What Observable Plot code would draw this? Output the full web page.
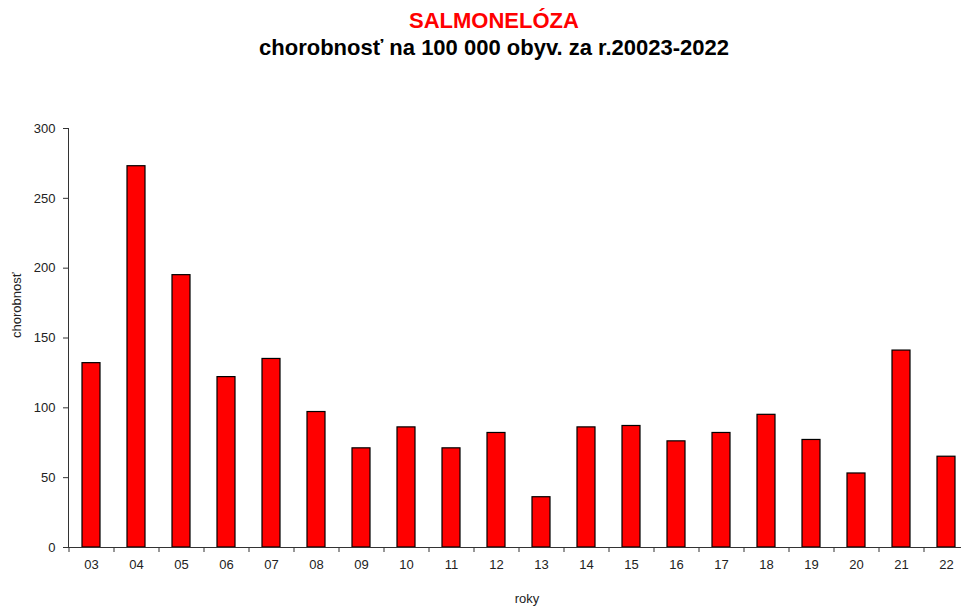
<!DOCTYPE html>
<html>
<head>
<meta charset="utf-8">
<script src="https://cdn.jsdelivr.net/npm/d3@7"></script>
<script src="https://cdn.jsdelivr.net/npm/@observablehq/plot@0.6"></script>
<style>
  html, body { margin: 0; padding: 0; background: #fff; }
  body { width: 961px; height: 608px; overflow: hidden; font-family: "Liberation Sans", Arial, sans-serif; }
  #head { height: 80px; position: relative; }
  #t1 { position: absolute; left: 0; width: 988px; top: 8px; text-align: center; color: #ff0000; font-weight: bold; font-size: 22px; }
  #t2 { position: absolute; left: 0; width: 988px; top: 35px; text-align: center; color: #000; font-weight: bold; font-size: 22px; }
</style>
</head>
<body>
<div id="head"><div id="t1">SALMONELÓZA</div><div id="t2">chorobnosť na 100 000 obyv. za r.20023-2022</div></div>
<div id="chart"></div>
<script>
const years = ["03","04","05","06","07","08","09","10","11","12","13","14","15","16","17","18","19","20","21","22"];
const values = [132, 273, 195, 122, 135, 97, 71, 86, 71, 82, 36, 86, 87, 76, 82, 95, 77, 53, 141, 65];
const yTicks = [0, 50, 100, 150, 200, 250, 300];

const data = years.map((y, i) => ({year: y, value: values[i]}));
const width = 961, height = 528, mL = 68;
const xRange = [68, 968];
const step = (xRange[1] - xRange[0]) / years.length;

const chart = Plot.plot({
  width, height,
  marginTop: 48, marginBottom: 61, marginLeft: mL, marginRight: 0,
  style: {fontFamily: "Liberation Sans, Arial, sans-serif", fontSize: "13px", color: "#222", overflow: "hidden"},
  x: {domain: years, range: xRange, paddingInner: 0.6, paddingOuter: 0.3, label: null},
  y: {domain: [0, 300], ticks: yTicks, label: null},
  marks: [
    Plot.barY(data, {x: "year", y: "value", fill: "#ff0000", stroke: "#000", strokeWidth: 1.2}),
    Plot.axisY({ticks: yTicks, tickSize: 5, tickPadding: 8, stroke: "#333", fontSize: 13}),
    Plot.axisX({tickSize: 0, tickPadding: 12, fontSize: 13}),
    Plot.axisX({tickSize: 5, text: null, dx: -step / 2, stroke: "#333"}),
    Plot.frame({anchor: "left", stroke: "#333"}),
    Plot.frame({anchor: "bottom", stroke: "#333"}),
    Plot.text(["roky"], {frameAnchor: "bottom", dx: 12, dy: 55, fontSize: 13, fill: "#222"}),
    Plot.text(["chorobnosť"], {frameAnchor: "left", dx: -52, rotate: -90, fontSize: 13, fill: "#222"})
  ]
});
document.getElementById("chart").appendChild(chart);
</script>
</body>
</html>
